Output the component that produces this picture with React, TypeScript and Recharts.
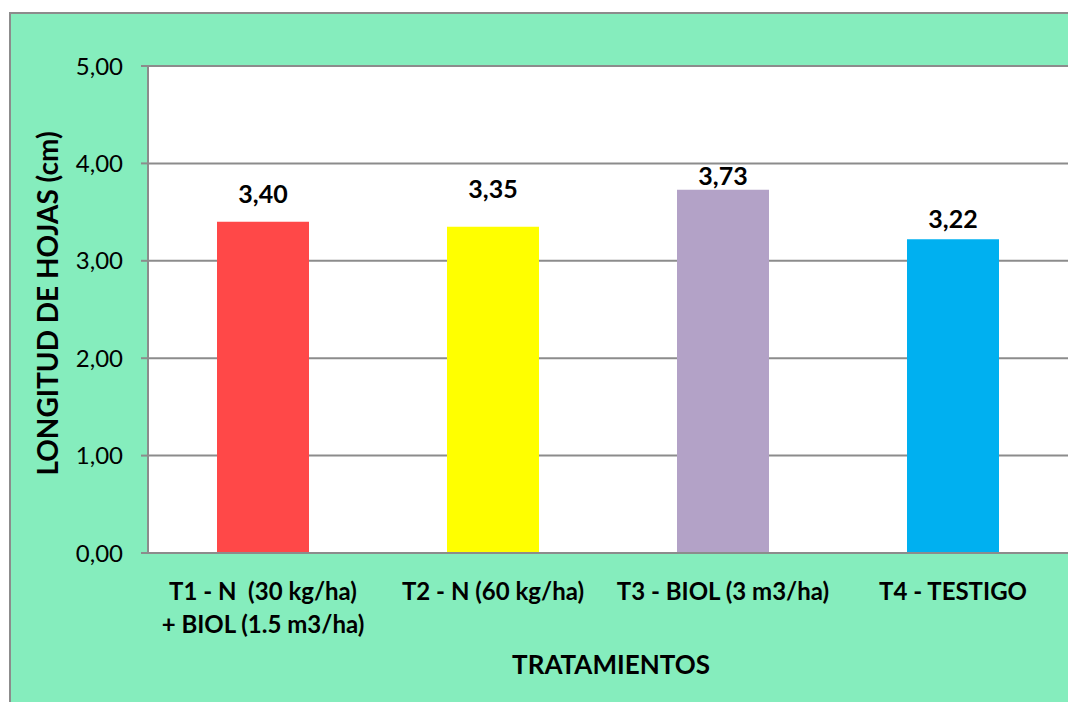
import React from 'react';
import { BarChart, Bar, XAxis, YAxis, CartesianGrid, Cell, LabelList } from 'recharts';

// Treatments and mean leaf length (cm)
const treatments = [
  'T1 - N  (30 kg/ha)\n+ BIOL (1.5 m3/ha)',
  'T2 - N (60 kg/ha)',
  'T3 - BIOL (3 m3/ha)',
  'T4 - TESTIGO',
];
const leafLength = [3.4, 3.35, 3.73, 3.22];
const barColors = ['#FF4848', '#FFFF00', '#B3A2C7', '#00B0F0'];
const yTicks = [0, 1, 2, 3, 4, 5];

// How far each value label sits above its bar (px)
const labelLift = [19, 29, 5, 11];

const data = treatments.map((t, i) => ({ name: t, value: leafLength[i] }));

const FONT = 'Lato, "Open Sans", sans-serif';
const GRID = '#8C8C8C';
const fmt = (v: number) => v.toFixed(2).replace('.', ',');

const CategoryTick = (props: any) => {
  const { x, y, payload } = props;
  const lines = String(payload.value).split('\n');
  return (
    <text x={x} y={y} textAnchor="middle" fontFamily={FONT} fontWeight={700} fontSize={24} fill="#000">
      {lines.map((ln, i) => (
        <tspan key={i} x={x} dy={i === 0 ? 47 : 33} style={{ whiteSpace: 'pre' }}>
          {ln}
        </tspan>
      ))}
    </text>
  );
};

const ValueLabel = (props: any) => {
  const { x, y, width, value, index } = props;
  return (
    <text
      x={Number(x) + Number(width) / 2}
      y={Number(y) - labelLift[index]}
      textAnchor="middle"
      fontFamily={FONT}
      fontWeight={700}
      fontSize={25}
      fill="#000"
    >
      {fmt(Number(value))}
    </text>
  );
};

const YTitle = (props: any) => {
  const vb = props.viewBox || {};
  const cx = 47;
  const cy = Number(vb.y) + Number(vb.height) / 2 - 6;
  return (
    <text
      x={cx}
      y={cy}
      transform={`rotate(-90, ${cx}, ${cy})`}
      textAnchor="middle"
      dominantBaseline="central"
      fontFamily={FONT}
      fontWeight={700}
      fontSize={28}
      fill="#000"
    >
      LONGITUD DE HOJAS (cm)
    </text>
  );
};

export default function App() {
  return (
    <div style={{ position: 'absolute', left: 0, top: 0, width: 1068, height: 702, background: '#fff', overflow: 'hidden' }}>
      <div
        style={{
          position: 'absolute',
          left: 9,
          top: 12,
          width: 1100,
          height: 720,
          background: '#85EDBD',
          borderLeft: `2px solid ${GRID}`,
          borderTop: `2px solid ${GRID}`,
        }}
      />
      <div style={{ position: 'absolute', left: 0, top: 0 }}>
        <BarChart
          width={1068}
          height={702}
          data={data}
          margin={{ top: 66, right: 0, bottom: 0, left: 0 }}
          barCategoryGap="30%"
        >
          <CartesianGrid vertical={false} stroke={GRID} strokeWidth={2} fill="#FFFFFF" />
          <XAxis
            dataKey="name"
            height={149}
            tickLine={false}
            tickSize={0}
            tickMargin={0}
            axisLine={{ stroke: GRID, strokeWidth: 2 }}
            tick={<CategoryTick />}
            interval={0}
            label={{
              value: 'TRATAMIENTOS',
              position: 'insideBottom',
              offset: 28,
              fontFamily: FONT,
              fontWeight: 700,
              fontSize: 26,
              fill: '#000',
              dx: 3,
            }}
          />
          <YAxis
            width={148}
            domain={[0, 5]}
            ticks={yTicks}
            tickFormatter={fmt}
            tickSize={7}
            tickMargin={18}
            tickLine={{ stroke: GRID, strokeWidth: 2 }}
            axisLine={{ stroke: GRID, strokeWidth: 2 }}
            tick={{ fontFamily: FONT, fontSize: 24, fill: '#000' }}
            label={<YTitle />}
          />
          <Bar dataKey="value" isAnimationActive={false}>
            {data.map((d, i) => (
              <Cell key={d.name} fill={barColors[i]} />
            ))}
            <LabelList dataKey="value" content={<ValueLabel />} />
          </Bar>
        </BarChart>
      </div>
    </div>
  );
}
